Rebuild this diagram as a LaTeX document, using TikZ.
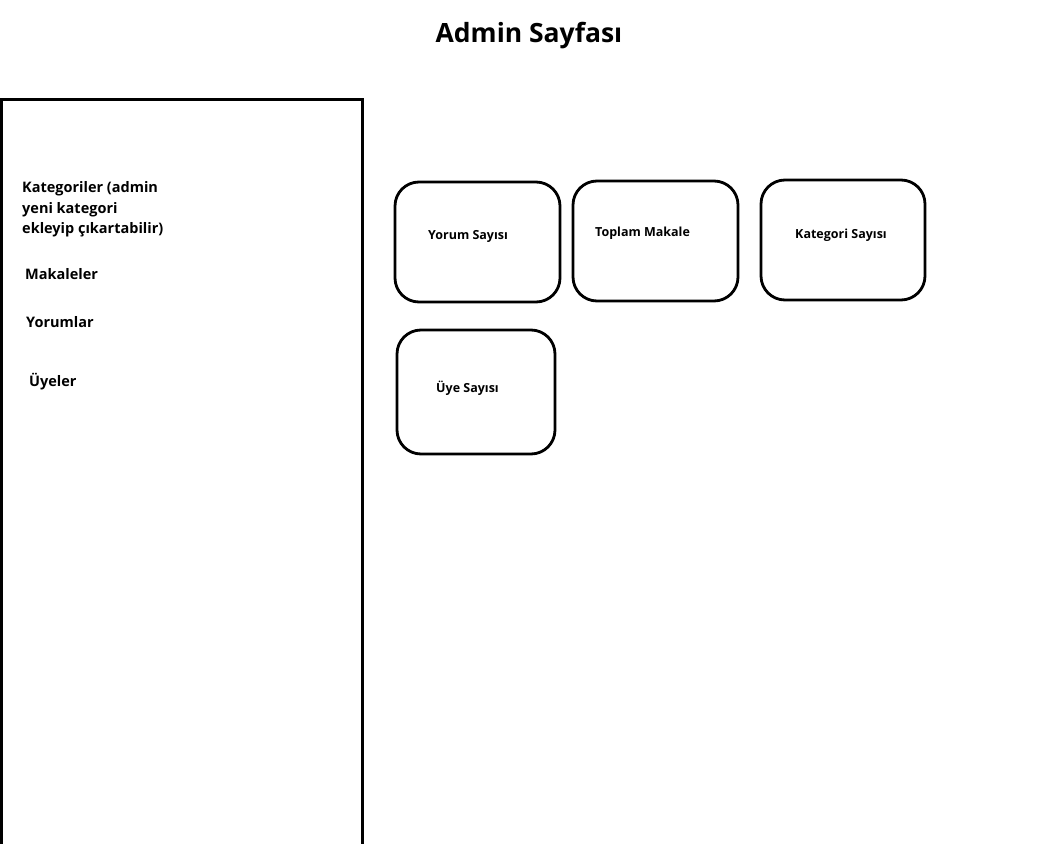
\documentclass[tikz,border=0pt]{standalone}
\usepackage{fontspec}
\setmainfont{Open Sans}
\begin{document}
\begin{tikzpicture}[x=1pt,y=-1pt,
  card/.style={draw,line width=2.8pt,rounded corners=24pt},
  panel/.style={draw,line width=3pt},
  menu/.style={anchor=west,inner sep=0pt,font=\fontsize{14.5}{20.8}\selectfont\bfseries,align=left},
  cardtext/.style={anchor=west,inner sep=0pt,font=\fontsize{12.5}{15}\selectfont\bfseries},
  titletext/.style={inner sep=0pt,font=\fontsize{26.5}{30}\selectfont\bfseries}]
\useasboundingbox[fill=white] (0,0) rectangle (1038,843);
\node[titletext] (title) at (529,36) {Admin Sayfası};
\draw[panel] (1,850) -- (1,99) coordinate (ptl) -- (362,99) coordinate (ptr) -- (362,850);
\node[menu,anchor=north west] (kat) at (22,181) {Kategoriler (admin\\yeni kategori\\ekleyip çıkartabilir)};
\node[menu] (mak) at (25,274) {Makaleler};
\node[menu] (yor) at (26,322) {Yorumlar};
\node[menu] (uye) at (29,382) {Üyeler};
\draw[card] (395,182) rectangle (560,302);
\draw[card] (573,181) rectangle (738,301);
\draw[card] (761,180) rectangle (925,300);
\draw[card] (397,330) rectangle (555,454);
\node[cardtext] (ys) at (428,236) {Yorum Sayısı};
\node[cardtext] (tm) at (595,233) {Toplam Makale};
\node[cardtext] (ks) at (795,235) {Kategori Sayısı};
\node[cardtext] (us) at (436,388) {Üye Sayısı};
\end{tikzpicture}
\end{document}
